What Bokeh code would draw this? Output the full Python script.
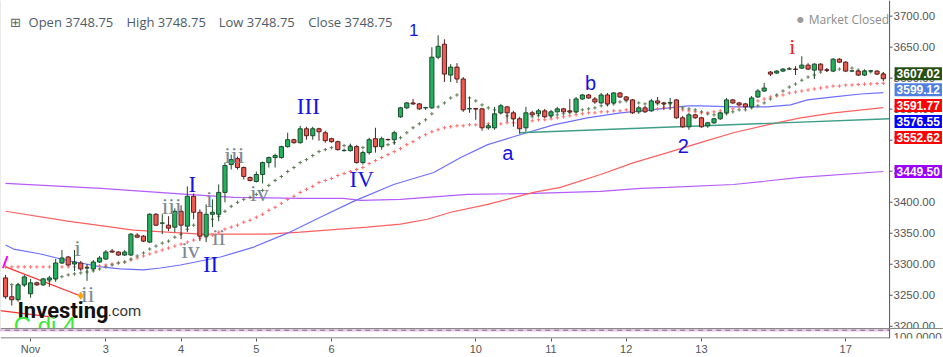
from bokeh.plotting import figure
from bokeh.models import ColumnDataSource, Range1d, FixedTicker, Label, Span
from bokeh.core.properties import value
from bokeh.embed import file_html
from bokeh.resources import INLINE

# ---------------- data (2-hour candles) ----------------
opens = [3278.0, 3247.6, 3242.8, 3266.8, 3252.4, 3270.0, 3266.8, 3274.8, 3276.4, 3302.0,
         3311.7, 3300.4, 3302.0, 3294.0, 3292.4, 3303.6, 3308.4, 3321.3, 3319.7, 3314.9,
         3314.9, 3346.9, 3345.3, 3335.7, 3380.6, 3366.2, 3363.0, 3359.8, 3385.4, 3361.4,
         3409.5, 3383.8, 3345.3, 3380.6, 3380.6, 3415.8, 3460.7, 3470.3, 3455.9, 3439.9,
         3433.4, 3444.7, 3463.9, 3472.0, 3472.0, 3489.6, 3500.8, 3496.0, 3518.4, 3507.2,
         3518.4, 3512.0, 3502.4, 3497.6, 3483.2, 3483.2, 3489.6, 3463.9, 3480.0, 3502.4,
         3489.6, 3501.2, 3500.8, 3537.7, 3552.1, 3560.1, 3558.5, 3552.1, 3552.1, 3633.8,
         3654.7, 3605.0, 3617.8, 3598.6, 3550.5, 3550.9, 3550.5, 3520.0, 3520.0, 3544.1,
         3553.7, 3544.1, 3534.5, 3520.0, 3544.1, 3542.5, 3547.3, 3539.3, 3545.7, 3550.5,
         3547.3, 3545.7, 3566.5, 3572.9, 3566.5, 3560.1, 3572.9, 3560.1, 3576.1, 3569.7,
         3564.9, 3545.7, 3552.1, 3547.3, 3563.3, 3560.1, 3560.1, 3564.9, 3536.1, 3521.6,
         3540.9, 3536.1, 3523.2, 3528.0, 3534.5, 3544.1, 3564.9, 3560.1, 3558.5, 3553.7,
         3569.7, 3579.3, 3609.8, 3608.2, 3611.4, 3614.6, 3614.6, 3616.2, 3621.0, 3613.0,
         3622.6, 3613.4, 3611.4, 3630.6, 3625.8, 3611.4, 3611.4, 3605.0, 3611.4, 3611.4,
         3606.6]
highs = [3282.8, 3265.2, 3270.0, 3282.8, 3276.4, 3271.6, 3278.0, 3281.2, 3308.4, 3322.9,
         3313.3, 3322.9, 3305.2, 3300.4, 3306.8, 3313.3, 3322.9, 3324.5, 3321.3, 3322.9,
         3350.1, 3350.1, 3346.9, 3382.2, 3382.2, 3380.6, 3377.4, 3390.2, 3395.0, 3425.5,
         3414.2, 3388.6, 3396.6, 3404.6, 3428.6, 3463.9, 3476.8, 3473.6, 3457.5, 3441.5,
         3449.5, 3465.5, 3473.6, 3478.4, 3491.2, 3512.0, 3502.4, 3523.2, 3521.6, 3521.6,
         3520.0, 3515.2, 3504.0, 3499.2, 3486.4, 3494.4, 3491.2, 3483.2, 3504.0, 3520.0,
         3505.6, 3502.4, 3515.2, 3553.7, 3561.7, 3566.5, 3560.1, 3553.7, 3649.8, 3669.1,
         3662.7, 3622.6, 3624.2, 3601.8, 3569.7, 3552.1, 3552.1, 3526.4, 3553.7, 3558.5,
         3555.4, 3547.3, 3537.7, 3553.7, 3547.3, 3550.5, 3550.5, 3548.9, 3553.7, 3552.1,
         3566.5, 3569.7, 3574.5, 3574.5, 3569.7, 3576.1, 3576.1, 3577.7, 3577.7, 3571.3,
         3566.5, 3555.4, 3555.4, 3566.5, 3569.7, 3561.7, 3568.1, 3566.5, 3539.3, 3544.1,
         3542.5, 3537.7, 3529.6, 3536.1, 3545.7, 3568.1, 3566.5, 3561.7, 3560.1, 3571.3,
         3582.5, 3592.2, 3611.4, 3613.0, 3616.2, 3617.8, 3619.4, 3635.4, 3624.2, 3624.2,
         3624.2, 3616.2, 3632.2, 3632.2, 3627.4, 3613.0, 3613.0, 3613.0, 3613.0, 3613.0,
         3609.8]
lows = [3244.4, 3233.2, 3239.6, 3263.6, 3246.0, 3265.2, 3265.2, 3263.6, 3271.6, 3300.4,
        3297.2, 3289.2, 3289.2, 3273.2, 3289.2, 3302.0, 3306.8, 3318.1, 3313.3, 3313.3,
        3313.3, 3342.1, 3335.7, 3334.1, 3361.4, 3348.5, 3353.4, 3351.7, 3340.5, 3351.7,
        3372.6, 3337.3, 3335.7, 3359.8, 3369.4, 3399.8, 3452.7, 3452.7, 3436.7, 3433.4,
        3431.8, 3430.2, 3455.9, 3455.9, 3470.3, 3488.0, 3494.4, 3494.4, 3500.8, 3500.8,
        3499.2, 3496.0, 3496.0, 3483.2, 3481.6, 3481.6, 3462.3, 3460.7, 3476.8, 3480.0,
        3484.8, 3499.2, 3492.8, 3536.1, 3550.5, 3556.9, 3548.9, 3548.9, 3550.5, 3630.6,
        3593.8, 3593.8, 3592.2, 3545.7, 3544.1, 3532.9, 3515.2, 3516.8, 3516.8, 3542.5,
        3529.6, 3521.6, 3510.4, 3513.6, 3539.3, 3539.3, 3536.1, 3536.1, 3544.1, 3544.1,
        3544.1, 3544.1, 3564.9, 3566.5, 3558.5, 3558.5, 3555.4, 3558.5, 3568.1, 3563.3,
        3542.5, 3542.5, 3544.1, 3545.7, 3558.5, 3548.9, 3548.9, 3534.5, 3520.0, 3516.8,
        3534.5, 3520.0, 3520.0, 3526.4, 3532.9, 3542.5, 3558.5, 3555.4, 3550.5, 3552.1,
        3568.1, 3577.7, 3603.4, 3606.6, 3609.8, 3613.0, 3605.0, 3614.6, 3613.0, 3598.6,
        3611.4, 3609.8, 3609.8, 3624.2, 3609.8, 3609.8, 3603.4, 3603.4, 3609.8, 3605.0,
        3595.4]
closes = [3247.6, 3242.8, 3266.8, 3279.6, 3270.0, 3266.8, 3276.4, 3278.0, 3302.0, 3310.1,
          3298.8, 3303.6, 3292.4, 3294.4, 3303.6, 3310.1, 3319.7, 3319.7, 3314.9, 3319.7,
          3348.5, 3343.7, 3337.3, 3380.6, 3363.0, 3366.6, 3358.2, 3385.4, 3363.0, 3409.5,
          3383.8, 3345.3, 3380.6, 3383.8, 3415.8, 3459.1, 3468.7, 3455.9, 3441.5, 3435.1,
          3444.7, 3463.9, 3472.0, 3475.2, 3489.6, 3500.8, 3496.0, 3518.4, 3507.2, 3518.4,
          3513.6, 3499.2, 3497.6, 3484.8, 3483.6, 3489.6, 3463.9, 3480.0, 3500.8, 3489.6,
          3502.4, 3500.8, 3512.0, 3552.1, 3560.1, 3558.5, 3550.5, 3552.5, 3633.8, 3651.4,
          3606.6, 3617.8, 3598.6, 3548.9, 3550.9, 3550.1, 3520.0, 3523.2, 3542.5, 3555.4,
          3544.1, 3534.5, 3518.4, 3544.1, 3540.9, 3547.3, 3537.7, 3545.7, 3550.5, 3545.7,
          3545.7, 3566.5, 3572.9, 3568.1, 3561.7, 3572.9, 3558.5, 3576.1, 3569.7, 3564.9,
          3544.1, 3552.1, 3545.7, 3563.3, 3560.1, 3558.5, 3560.5, 3536.1, 3521.6, 3540.9,
          3536.1, 3521.6, 3528.0, 3534.5, 3544.1, 3564.9, 3560.1, 3556.9, 3553.7, 3568.1,
          3579.3, 3584.1, 3606.6, 3611.4, 3614.6, 3615.0, 3614.2, 3621.0, 3614.6, 3622.6,
          3613.0, 3612.6, 3630.6, 3625.8, 3611.4, 3611.8, 3605.0, 3611.4, 3611.8, 3606.6,
          3599.1]

# short moving average (dark green crosses)
ma_fast = [3268.0, 3267.0, 3266.5, 3267.0, 3268.0, 3269.0, 3271.0, 3273.0, 3276.5, 3280.0,
           3282.8, 3284.4, 3286.0, 3287.6, 3289.2, 3292.4, 3295.7, 3298.8, 3302.0, 3303.6,
           3308.4, 3313.3, 3318.1, 3324.5, 3329.3, 3334.1, 3337.3, 3343.7, 3348.5, 3356.6,
           3363.0, 3366.2, 3369.4, 3372.6, 3377.4, 3385.4, 3393.4, 3399.8, 3404.6, 3407.9,
           3412.6, 3419.1, 3427.1, 3435.1, 3441.5, 3449.5, 3455.9, 3463.9, 3468.7, 3475.2,
           3481.6, 3484.8, 3488.0, 3491.2, 3491.2, 3491.2, 3489.6, 3488.0, 3488.0, 3489.6,
           3491.2, 3492.8, 3496.0, 3504.0, 3512.0, 3520.0, 3526.4, 3532.9, 3542.5, 3553.7,
           3560.1, 3568.1, 3572.9, 3571.3, 3568.1, 3563.3, 3556.9, 3552.1, 3548.9, 3544.1,
           3539.3, 3534.5, 3532.9, 3534.5, 3537.7, 3539.3, 3539.3, 3539.3, 3540.9, 3542.5,
           3544.1, 3545.7, 3548.9, 3550.5, 3552.1, 3555.4, 3556.9, 3558.5, 3561.7, 3563.3,
           3561.7, 3560.1, 3558.5, 3558.5, 3558.5, 3558.5, 3558.5, 3555.4, 3552.1, 3550.5,
           3548.9, 3545.7, 3542.5, 3540.9, 3540.9, 3542.5, 3545.7, 3548.9, 3548.9, 3552.1,
           3555.4, 3560.1, 3566.5, 3572.9, 3579.3, 3585.7, 3590.5, 3596.7, 3601.8, 3605.0,
           3609.8, 3613.0, 3614.6, 3614.6, 3616.2, 3616.2, 3613.0, 3612.0, 3610.0, 3608.5,
           3607.0]
# medium moving average (red crosses)
ma_mid = [3295.7, 3295.7, 3295.7, 3295.7, 3295.7, 3295.7, 3295.7, 3295.7, 3295.7, 3295.7,
          3295.7, 3295.7, 3295.7, 3295.7, 3296.5, 3297.2, 3298.8, 3300.4, 3302.0, 3303.6,
          3306.8, 3310.1, 3313.3, 3316.5, 3319.7, 3322.9, 3326.1, 3329.3, 3332.5, 3335.7,
          3338.9, 3342.1, 3343.7, 3346.9, 3351.7, 3356.6, 3359.8, 3363.0, 3367.8, 3371.0,
          3375.8, 3380.6, 3387.0, 3391.8, 3398.2, 3404.6, 3409.5, 3415.8, 3420.7, 3425.5,
          3431.8, 3435.1, 3438.3, 3443.1, 3446.3, 3449.5, 3452.7, 3455.9, 3462.3, 3467.1,
          3472.0, 3476.8, 3481.6, 3486.4, 3492.8, 3497.6, 3504.0, 3508.8, 3513.6, 3516.8,
          3520.0, 3521.6, 3523.2, 3523.2, 3524.8, 3524.8, 3526.4, 3526.4, 3526.4, 3526.4,
          3528.0, 3528.0, 3529.6, 3529.6, 3531.2, 3532.9, 3532.9, 3534.5, 3536.1, 3537.7,
          3539.3, 3540.9, 3542.5, 3544.1, 3544.1, 3545.7, 3545.7, 3547.3, 3547.3, 3548.9,
          3548.9, 3548.9, 3550.5, 3550.5, 3550.5, 3552.1, 3552.1, 3550.5, 3548.9, 3547.3,
          3545.7, 3544.1, 3544.1, 3545.7, 3547.3, 3548.9, 3550.5, 3553.7, 3556.9, 3560.1,
          3563.3, 3566.5, 3569.7, 3571.3, 3572.9, 3576.1, 3577.7, 3579.3, 3580.9, 3582.5,
          3584.1, 3585.7, 3587.3, 3587.3, 3588.9, 3588.9, 3589.8, 3590.3, 3590.8, 3591.3,
          3591.8]

# longer averages, read at a few bars
blue_bar = [0, 1.3, 5.6, 8.8, 12, 15.2, 18.3, 22, 24.7, 27.9, 34.3, 39.6, 45, 50.2, 55.5,
            61.9, 68.3, 72.6, 76.9, 81, 87.4, 92.8, 98.1, 102.9, 108.8, 110.9, 116.1, 121.5,
            125.2, 127.9, 132.1, 136.4, 140]
blue_val = [3330.9, 3324.5, 3316.5, 3308.4, 3302.0, 3295.7, 3292.4, 3290.8, 3294.0, 3298.8,
            3311.7, 3327.7, 3350.1, 3375.8, 3401.4, 3428.6, 3447.9, 3472.0, 3492.8, 3505.6,
            3524.8, 3536.1, 3544.1, 3548.9, 3555.4, 3555.4, 3553.7, 3553.7, 3556.9, 3564.9,
            3569.7, 3574.5, 3576.55]
red_bar = [0, 9.9, 20.4, 31.1, 41.8, 47, 57.7, 63, 67.3, 71, 76.9, 84.2, 88.5, 94.9, 100.2,
           105.6, 110.8, 116.1, 121.5, 126.8, 132.1, 140]
red_val = [3385.4, 3369.4, 3354.9, 3348.5, 3348.5, 3351.7, 3359.8, 3364.6, 3372.6, 3383.8,
           3396.6, 3415.8, 3423.9, 3444.7, 3463.9, 3480.0, 3496.0, 3512.0, 3524.8, 3536.1,
           3544.1, 3552.62]
purple_bar = [0, 15.2, 29, 36.4, 47, 53.9, 56.6, 63, 73.7, 84.2, 94.9, 101.3, 105.6, 116.1,
              126.8, 140]
purple_val = [3430.3, 3422.3, 3412.6, 3407.9, 3406.3, 3406.3, 3403.0, 3404.6, 3412.6, 3414.2,
              3417.5, 3422.3, 3423.9, 3428.6, 3439.9, 3449.5]

# drawn trend lines
teal_bar, teal_val = [82, 141], [3512.0, 3534.5]
trend1_bar, trend1_val = [0, 12.3], [3295.7, 3247.6]
trend2_bar, trend2_val = [-0.9, 6.9], [3225.1, 3215.5]
magenta_bar, magenta_val = [-0.4, 0.3], [3294.0, 3313.3]

# price tags on the right axis
tag_values = [3607.02, 3599.12, 3591.77, 3576.55, 3552.62, 3449.50]
tag_colors = ["#274e13", "#4f7fe0", "#ff0000", "#0000ff", "#ff0000", "#9900ff"]

# axis ticks
day_ticks = [4, 16, 28, 40, 52, 75, 87, 99, 111, 134]
day_labels = ["Nov", "3", "4", "5", "6", "10", "11", "12", "13", "17"]
price_ticks = [3200, 3250, 3300, 3350, 3400, 3450, 3500, 3550, 3600, 3650, 3700]

# wave labels: (text, bar, price)
blue_roman = [("III", 48.3, 3553.7), ("IV", 56.8, 3436.7), ("I", 29.8, 3428.6), ("II", 32.7, 3298.8)]
blue_sans = [("a", 80.1, 3480.0), ("b", 93.3, 3592.2), ("2", 108.1, 3491.2)]
grey_roman = [("i", 11.5, 3326.1), ("ii", 13.1, 3252.4), ("iii", 26.5, 3393.4), ("iv", 29.5, 3322.9),
              ("i", 32.5, 3404.6), ("ii", 34.0, 3343.7), ("iii", 36.5, 3476.8), ("iv", 40.5, 3414.2)]

# ---------------- figure ----------------
W, H, BB = 943, 357, 17
X0, X1 = -0.8, 149.6          # price pane ends at bar 141, the rest is the price scale column
PANE_END = 141.0
Y0, Y1 = 3180.3, 3725.2
px_per_bar = W / (X1 - X0)
px_per_price = (H - BB) / (Y1 - Y0)

p = figure(width=W, height=H, x_range=Range1d(X0, X1), y_range=Range1d(Y0, Y1),
           y_axis_location=None, toolbar_location=None, output_backend="svg",
           min_border_left=0, min_border_top=0, min_border_right=0, min_border_bottom=BB)
p.grid.visible = False
p.outline_line_color = None
p.background_fill_color = "white"
p.border_fill_color = "white"

xa = p.xaxis[0]
xa.ticker = FixedTicker(ticks=day_ticks)
xa.major_label_overrides = {t: l for t, l in zip(day_ticks, day_labels)}
xa.major_tick_out = 3
xa.major_tick_in = 0
xa.minor_tick_out = 0
xa.minor_tick_in = 0
xa.major_label_standoff = 1
xa.major_label_text_font = "Liberation Sans"
xa.major_label_text_font_size = "11px"
xa.major_label_text_color = "#555555"
xa.axis_line_color = None
xa.major_tick_line_color = "#555555"

# long averages and trend lines
p.line(purple_bar, purple_val, line_color="#b45cff", line_width=1.2)
p.line(red_bar, red_val, line_color="#ff5f5f", line_width=1.2)
p.line(blue_bar, blue_val, line_color="#6f6fff", line_width=1.2)
p.line(teal_bar, teal_val, line_color="#3f9e86", line_width=1.4)
p.line(trend1_bar, trend1_val, line_color="#ff3030", line_width=1.2)
p.line(trend2_bar, trend2_val, line_color="#ff3030", line_width=1.2)
p.line(magenta_bar, magenta_val, line_color="#ff00ff", line_width=2)
p.scatter([trend1_bar[1] - 0.3], [trend1_val[1] + 1.6], marker="diamond", size=7, color="#ffa500")

bars = list(range(len(closes)))
p.scatter(bars, ma_mid, marker="cross", size=3.5, line_color="#ff6a6a", line_width=1)
p.scatter(bars, ma_fast, marker="cross", size=3.5, line_color="#5f7a55", line_width=1)

# candles
up = [c >= o for o, c in zip(opens, closes)]
src = ColumnDataSource(dict(
    x=bars, o=opens, h=highs, l=lows, c=closes,
    top=[max(o, c) for o, c in zip(opens, closes)],
    bot=[min(o, c) for o, c in zip(opens, closes)],
    fill=["#22b25e" if u else "#ef5b50" for u in up],
    edge=["#1c4a2c" if u else "#5a1e1e" for u in up],
))
p.segment(x0="x", y0="h", x1="x", y1="l", line_color="edge", line_width=1, source=src)
p.vbar(x="x", top="top", bottom="bot", width=0.66, fill_color="fill", line_color="edge",
       line_width=1, source=src)

# wave labels
def txt(items, font, size, color):
    p.text(x=[i[1] for i in items], y=[i[2] for i in items], text=[i[0] for i in items],
           text_font=value(font), text_font_size=size, text_color=color,
           text_align="center", text_baseline="middle")

txt(blue_roman, "Liberation Serif", "23px", "#1414e6")
txt(grey_roman, "Liberation Serif", "24px", "#7b8794")
txt(blue_sans, "Liberation Sans", "20px", "#1414e6")
txt([("1", 65.1, 3677.1)], "Liberation Sans", "17px", "#1414e6")
txt([("i", 125.5, 3651.4)], "Liberation Serif", "22px", "#f01e1e")

# logo and note
p.text(x=[1.9], y=[3225.2], text=["Investing"], text_font=value("Roboto"), text_font_style="bold",
       text_font_size="22px", text_color="#111111", text_baseline="alphabetic")
p.text(x=[16.3], y=[3225.2], text=[".com"], text_font=value("Roboto"),
       text_font_size="15px", text_color="#333333", text_baseline="alphabetic")
p.text(x=[1.3], y=[3200.8], text=["C di 4"], text_font=value("Liberation Sans"),
       text_font_size="24px", text_color="#36ea36", text_baseline="alphabetic")

# price scale column (right side): ticks and labels through the y scale
lab_x = PANE_END + 4 / px_per_bar
p.text(x=[lab_x] * len(price_ticks), y=price_ticks, text=[f"{t:.2f}" for t in price_ticks],
       text_font=value("Liberation Sans"), text_font_size="11.5px", text_color="#555555",
       text_align="left", text_baseline="middle")

# lower sub-pane
SUB_TOP = 3196.0
p.quad(left=[X0 - 5], right=[X1 + 5], bottom=[Y0 - 10], top=[SUB_TOP], fill_color="white", line_color=None)
p.quad(left=[X0 - 5], right=[PANE_END], bottom=[SUB_TOP - 4.6], top=[SUB_TOP], fill_color="#e9c9ea",
       line_color=None)
p.line([X0 - 5, PANE_END], [SUB_TOP - 2.3, SUB_TOP - 2.3], line_color="#707070", line_dash="5 4", line_width=1)
p.add_layout(Span(location=SUB_TOP + 0.4, dimension="width", line_color="#8a8a8a", line_width=1))
# pane borders: bottom time axis line and price axis line with its ticks
p.line([X0, PANE_END], [Y0 + 0.8, Y0 + 0.8], line_color="#555555", line_width=1)
p.line([PANE_END, PANE_END], [Y0, Y1], line_color="#555555", line_width=1)
p.segment(x0=[PANE_END] * len(price_ticks), y0=price_ticks,
          x1=[PANE_END + 3 / px_per_bar] * len(price_ticks), y1=price_ticks,
          line_color="#555555", line_width=1)
p.line([X0, X0], [SUB_TOP, Y1], line_color="#d6d6d6", line_width=1)

# header
hdr_y = 3689.9
p.add_layout(Label(x=1.6, y=hdr_y, text="⊞", text_font="DejaVu Sans", text_font_size="13px",
                   text_color="#666666", text_align="center", text_baseline="middle"))
for xb, t in [(3.67, "Open 3748.75"), (19.3, "High 3748.75"), (34.0, "Low 3748.75"), (48.3, "Close 3748.75")]:
    p.add_layout(Label(x=xb, y=hdr_y, text=t, text_font="Open Sans", text_font_size="13px",
                       text_color="#4e5b68", text_baseline="middle"))
p.add_layout(Label(x=126.8, y=3694.7, text="●", text_font="DejaVu Sans", text_font_size="8px",
                   text_color="#9a9a9a", text_align="center", text_baseline="middle"))
p.add_layout(Label(x=128.1, y=3694.7, text="Market Closed", text_font="Open Sans", text_font_size="12px",
                   text_color="#8c8c8c", text_baseline="middle"))

# price tags (stacked so they do not overlap), over the price scale column
gap = 16 / px_per_price
tag_x = PANE_END + 5 / px_per_bar
last = None
for v, col in zip(tag_values, tag_colors):
    yv = v if last is None else min(v, last - gap)
    last = yv
    p.add_layout(Label(x=tag_x, y=yv, text=f"{v:.2f}", text_font="Liberation Sans",
                       text_font_size="12px", text_font_style="bold", text_color="white",
                       text_align="left", text_baseline="middle",
                       background_fill_color=col, padding=2))
p.add_layout(Label(x=lab_x, y=3182.4, text="100.0000", text_font="Liberation Sans",
                   text_font_size="11.5px", text_color="#555555", text_baseline="middle"))

open("out.html", "w").write(file_html(p, INLINE))
